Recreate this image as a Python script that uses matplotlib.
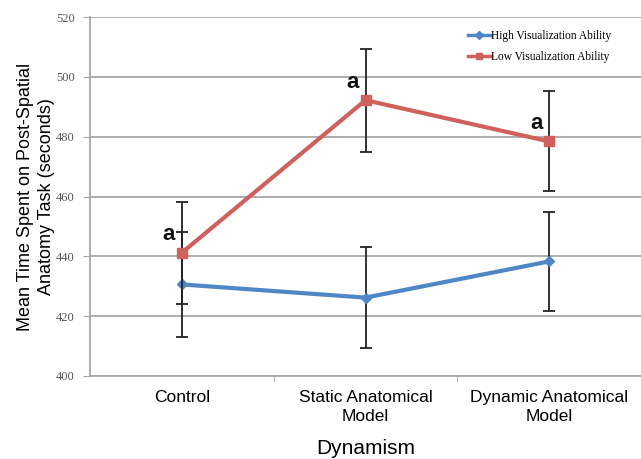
import matplotlib
matplotlib.use("Agg")
import matplotlib.pyplot as plt
from matplotlib.ticker import FixedLocator
from matplotlib.lines import Line2D

categories = ["Control", "Static Anatomical\nModel", "Dynamic Anatomical\nModel"]
high_vals = [430.6, 426.2, 438.3]
high_err = [17.7, 17.0, 16.6]
low_vals = [441.2, 492.2, 478.4]
low_err = [17.0, 17.2, 16.7]
yticks = [400, 420, 440, 460, 480, 500, 520]
sig_labels = ["a", "a", "a"]
series_names = ["High Visualization Ability", "Low Visualization Ability"]

fig = plt.figure(figsize=(6.41, 4.59), dpi=100)
ax = fig.add_axes([90/641, 1-376/459, 1-90/641, (376-17)/459])

x = list(range(len(categories)))
blue = "#4f86c6"
red = "#d0605c"

ax.errorbar(x, high_vals, yerr=high_err, color=blue, lw=3, marker="D", ms=5,
            ecolor="#222222", elinewidth=1.3, capsize=4, capthick=1.3, zorder=3)
ax.errorbar(x, low_vals, yerr=low_err, color=red, lw=3, marker="s", ms=7,
            ecolor="#222222", elinewidth=1.3, capsize=4, capthick=1.3, zorder=4)

for xi, yi, lab in zip(x, low_vals, sig_labels):
    ax.text(xi - 0.07, yi + 2.5, lab, fontsize=16, fontweight="bold",
            family="Liberation Sans", ha="center", va="bottom", color="#111111")

ax.set_xlim(-0.5, 2.5)
ax.set_ylim(400, 520)
ax.set_yticks(yticks)
ax.yaxis.grid(True, color="#a8a8a8", lw=1.3)
ax.set_axisbelow(True)
for s in ["top", "right"]:
    ax.spines[s].set_visible(False)
ax.spines["left"].set_color("#a8a8a8")
ax.spines["left"].set_linewidth(1.3)
ax.spines["bottom"].set_color("#a8a8a8")
ax.spines["bottom"].set_linewidth(1.3)

ax.set_xticks(x)
ax.set_xticklabels(categories, family="Liberation Sans", fontsize=12.5, linespacing=1.35)
ax.tick_params(axis="x", length=0, pad=10)
ax.xaxis.set_minor_locator(FixedLocator([0.5, 1.5]))
ax.tick_params(axis="x", which="minor", length=4, color="#a8a8a8")
ax.tick_params(axis="y", length=5, color="#a8a8a8", labelcolor="#555555", pad=6)
for t in ax.get_yticklabels():
    t.set_family("Liberation Serif")
    t.set_fontsize(9)

ax.set_ylabel("Mean Time Spent on Post-Spatial\nAnatomy Task (seconds)",
              family="Liberation Sans", fontsize=13, labelpad=1, linespacing=1.3)
ax.set_xlabel("Dynamism", family="Liberation Sans", fontsize=15, labelpad=11)

handles = [Line2D([], [], color=blue, lw=2.5, marker="D", ms=4),
           Line2D([], [], color=red, lw=2.5, marker="s", ms=5)]
leg = ax.legend(handles, series_names, loc="upper right",
                bbox_to_anchor=((611 - 90) / 551, 1 - 13 / 359), frameon=False,
                prop={"family": "Liberation Serif", "size": 8.3},
                handlelength=2.0, handletextpad=0.0, labelspacing=0.75,
                borderaxespad=0, borderpad=0)

fig.savefig("out.png", dpi=100)
